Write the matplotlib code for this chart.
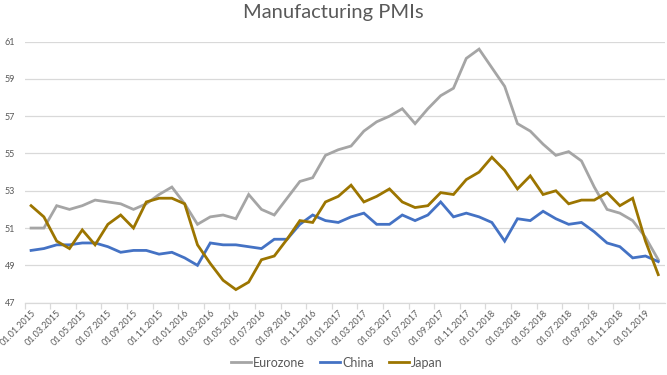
import matplotlib
matplotlib.use("Agg")
import matplotlib.pyplot as plt
import pandas as pd

# Monthly manufacturing PMIs, Jan 2015 - Feb 2019
dates = pd.date_range("2015-01-01", periods=50, freq="MS")
date_labels = [d.strftime("%d.%m.%Y") for d in dates]

eurozone = [51.0, 51.0, 52.2, 52.0, 52.2, 52.5, 52.4, 52.3, 52.0, 52.3, 52.8, 53.2,
            52.3, 51.2, 51.6, 51.7, 51.5, 52.8, 52.0, 51.7, 52.6, 53.5, 53.7, 54.9,
            55.2, 55.4, 56.2, 56.7, 57.0, 57.4, 56.6, 57.4, 58.1, 58.5, 60.1, 60.6,
            59.6, 58.6, 56.6, 56.2, 55.5, 54.9, 55.1, 54.6, 53.2, 52.0, 51.8, 51.4,
            50.5, 49.3]
china = [49.8, 49.9, 50.1, 50.1, 50.2, 50.2, 50.0, 49.7, 49.8, 49.8, 49.6, 49.7,
         49.4, 49.0, 50.2, 50.1, 50.1, 50.0, 49.9, 50.4, 50.4, 51.2, 51.7, 51.4,
         51.3, 51.6, 51.8, 51.2, 51.2, 51.7, 51.4, 51.7, 52.4, 51.6, 51.8, 51.6,
         51.3, 50.3, 51.5, 51.4, 51.9, 51.5, 51.2, 51.3, 50.8, 50.2, 50.0, 49.4,
         49.5, 49.2]
japan = [52.2, 51.6, 50.3, 49.9, 50.9, 50.1, 51.2, 51.7, 51.0, 52.4, 52.6, 52.6,
         52.3, 50.1, 49.1, 48.2, 47.7, 48.1, 49.3, 49.5, 50.4, 51.4, 51.3, 52.4,
         52.7, 53.3, 52.4, 52.7, 53.1, 52.4, 52.1, 52.2, 52.9, 52.8, 53.6, 54.0,
         54.8, 54.1, 53.1, 53.8, 52.8, 53.0, 52.3, 52.5, 52.5, 52.9, 52.2, 52.6,
         50.3, 48.5]

series_names = ["Eurozone", "China", "Japan"]
colors = ["#A5A5A5", "#4472C4", "#9C7500"]
y_ticks = [47, 49, 51, 53, 55, 57, 59, 61]

plt.rcParams["font.family"] = ["Lato", "DejaVu Sans"]

fig = plt.figure(figsize=(6.67, 3.75), dpi=100)
ax = fig.add_axes([0.037, 0.193, 0.9595, 0.696])

x = list(range(len(dates)))
for vals, name, c in zip([eurozone, china, japan], series_names, colors):
    ax.plot(x, vals, color=c, lw=2, label=name, solid_joinstyle="miter")

ax.set_xlim(-0.5, len(dates) - 0.5)
ax.set_ylim(47, 61)
ax.set_yticks(y_ticks)
ax.yaxis.grid(True, color="#D9D9D9", lw=0.9)
ax.set_axisbelow(True)
ax.tick_params(axis="y", length=0, labelsize=6.5, labelcolor="#595959", pad=7)

# labels at every 2nd category, tick marks at category boundaries
ax.set_xticks(x[::2])
ax.set_xticklabels(date_labels[::2], rotation=45, ha="right", rotation_mode="anchor",
                   fontsize=6.5, color="#595959")
ax.tick_params(axis="x", which="major", length=0, pad=4)
ax.set_xticks([i - 0.5 for i in x[::2]], minor=True)
ax.tick_params(axis="x", which="minor", length=4, color="#D9D9D9", width=0.9)

for s in ["top", "right", "left"]:
    ax.spines[s].set_visible(False)
ax.spines["bottom"].set_color("#D9D9D9")
ax.spines["bottom"].set_linewidth(0.9)

fig.suptitle("Manufacturing PMIs", x=0.5, y=0.99, fontsize=14.5, color="#595959")
fig.legend(loc="center", bbox_to_anchor=(0.505, 0.033), ncol=3, frameon=False,
           fontsize=9, labelcolor="#595959", handlelength=1.6, handletextpad=0.15,
           columnspacing=1.2)

fig.savefig("out.png", dpi=100)
